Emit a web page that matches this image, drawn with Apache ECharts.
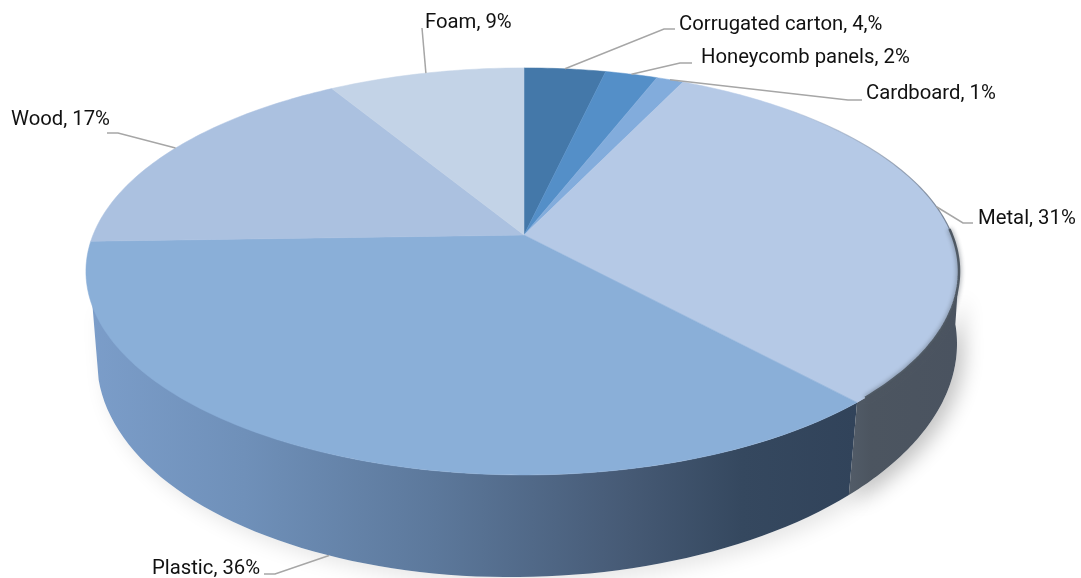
<!DOCTYPE html>
<html>
<head>
<meta charset="utf-8">
<style>html,body{margin:0;padding:0;background:#fff}#c{width:1081px;height:578px}</style>
<script src="https://cdn.jsdelivr.net/npm/echarts@6/dist/echarts.min.js"></script>
</head>
<body>
<div id="c"></div>
<script>
// Data, clockwise from 12 o'clock
const categories = ['Corrugated carton', 'Honeycomb panels', 'Cardboard', 'Metal', 'Plastic', 'Wood', 'Foam'];
const values = [3.6, 2.3, 1.2, 31.1, 36.3, 16.9, 8.6];
const labelValues = ['4,%', '2%', '1%', '31%', '36%', '17%', '9%'];

// Styles and layout, separate from the data
const sliceColors = ['#4478a9', '#548fc8', '#82acdc', '#b5c9e6', '#8aafd8', '#abc1e0', '#c3d3e7'];
const labelAt = [[679, 25], [701, 58], [866, 94], [978, 219], [152, 569], [11, 120], [425, 23]];
const elbows = [
  [[664, 29], [675, 29]], [[680, 63], [692, 63]], [[848, 100], [862, 100]], [[963, 223], [973, 223]],
  [[275, 574], [264, 574]], [[118, 133], [107, 133]], [[422, 28]]
];
const APEX = [524, 235], A_RIGHT = 428, A_LEFT = 431, B = 197, K = -0.179;
const TOP = {cx: 524, cy: 271.5, rx: 435, ry: 203.5};
const LOW = {cx: 527, cy: 352, rx: 430, ry: 225, shear: -0.019};
const rad = Math.PI / 180;
const total = values.reduce((a, b) => a + b, 0);

function rim(t) {           // perspective projection of the rim at angle t (radians, clockwise from top)
  const u = Math.sin(t), v = -Math.cos(t), d = 1 + K * v;
  return [APEX[0] + (u < 0 ? A_LEFT : A_RIGHT) * u / d, APEX[1] + B * v / d];
}
function phiOf(t) {
  const p = rim(t);
  let f = Math.atan2((p[0] - TOP.cx) / TOP.rx, -(p[1] - TOP.cy) / TOP.ry);
  return f < 0 ? f + 2 * Math.PI : f;
}
function topE(f) { return [TOP.cx + TOP.rx * Math.sin(f), TOP.cy - TOP.ry * Math.cos(f)]; }
function lowE(f) {
  const s = LOW.rx * Math.sin(f);
  return [LOW.cx + s, LOW.cy - LOW.ry * Math.cos(f) + LOW.shear * s];
}
function arc(fn, a, b, n) {
  const out = [];
  for (let i = 0; i <= n; i++) out.push(fn(a + (b - a) * i / n));
  return out;
}
const GREY = '#a6a6a6';
const wallFill = {
  3: new echarts.graphic.LinearGradient(0, 0, 1, 0, [
    {offset: 0, color: '#525c68'}, {offset: 0.2, color: '#4c5560'}, {offset: 1, color: '#4a5360'}]),
  4: new echarts.graphic.LinearGradient(0, 0, 1, 0, [
    {offset: 0, color: '#7b9dc9'}, {offset: 0.2, color: '#6f90b9'}, {offset: 0.45, color: '#5c789b'},
    {offset: 0.7, color: '#465a75'}, {offset: 0.85, color: '#35485f'}, {offset: 1, color: '#31435a'}])
};
const edgeFade = new echarts.graphic.LinearGradient(0, 0, 1, 1, [
  {offset: 0, color: 'rgba(110,120,135,0)'}, {offset: 1, color: 'rgba(90,100,115,0.8)'}]);
const wallRange = {3: {topEnd: 94, lowEnd: 85}, 4: {topEnd: 264, lowEnd: 265}};

function renderItem(params, api) {
  const i = params.dataIndex, children = [];
  let before = 0;
  for (let j = 0; j < i; j++) before += values[j];
  const t0 = before / total * 2 * Math.PI;
  const t1 = (before + api.value(0)) / total * 2 * Math.PI;
  const tm = (t0 + t1) / 2;

  // side wall
  if (wallRange[i]) {
    const fStart = i === 3 ? phiOf(t1) : phiOf(t0);
    const r = wallRange[i];
    const pts = arc(topE, fStart, r.topEnd * rad, 70)
      .concat(arc(lowE, r.lowEnd * rad, fStart + 1.5 * rad, 70));
    children.push({type: 'polygon', z2: 0, shape: {points: pts},
      style: {fill: '#fff', shadowBlur: 20, shadowOffsetX: 7, shadowOffsetY: 7, shadowColor: i === 3 ? 'rgba(0,0,0,0.24)' : 'rgba(0,0,0,0.10)'}});
    children.push({type: 'polygon', z2: i === 3 ? 2 : 1, shape: {points: pts}, style: {fill: wallFill[i]}});
  }
  // top face
  const topPts = [APEX].concat(arc(rim, t0, t1, Math.max(8, Math.ceil((t1 - t0) * 60))));
  children.push({type: 'polygon', z2: 5, shape: {points: topPts},
    style: {fill: sliceColors[i], stroke: sliceColors[i], lineWidth: 0.5}});
  // soft dark edge where the metal face meets its wall
  if (i === 3) {
    children.push({type: 'polyline', z2: 6, shape: {points: arc(rim, 42 * rad, t0 + (t1 - t0) * 0.6, 50)},
      style: {fill: null, stroke: edgeFade, lineWidth: 1.2}});
    children.push({type: 'polyline', z2: 6, shape: {points: arc(rim, t0 + (t1 - t0) * 0.56, t1 - 1.5 * rad, 50)},
      style: {fill: null, stroke: 'rgba(76,85,96,0.95)', lineWidth: 2.5, shadowBlur: 5, shadowColor: 'rgba(76,85,96,0.9)'}});
  }
  // leader line and label
  let anchor = rim(tm);
  if (i === 4) anchor = lowE(phiOf(tm));
  children.push({type: 'polyline', z2: 8, shape: {points: [anchor].concat(elbows[i])},
    style: {fill: null, stroke: GREY, lineWidth: 1.5}});
  children.push({type: 'text', z2: 9, x: labelAt[i][0], y: labelAt[i][1],
    style: {text: categories[i] + ', ' + labelValues[i], fill: '#111111', font: '20.3px Roboto', verticalAlign: 'middle', align: 'left'}});
  return {type: 'group', children};
}

const chart = echarts.init(document.getElementById('c'), null, {renderer: 'canvas'});
chart.setOption({
  animation: false,
  backgroundColor: '#ffffff',
  series: [{
    type: 'custom',
    coordinateSystem: 'none',
    renderItem,
    data: values.map((v, i) => ({name: categories[i], value: [v]}))
  }]
});
</script>
</body>
</html>
